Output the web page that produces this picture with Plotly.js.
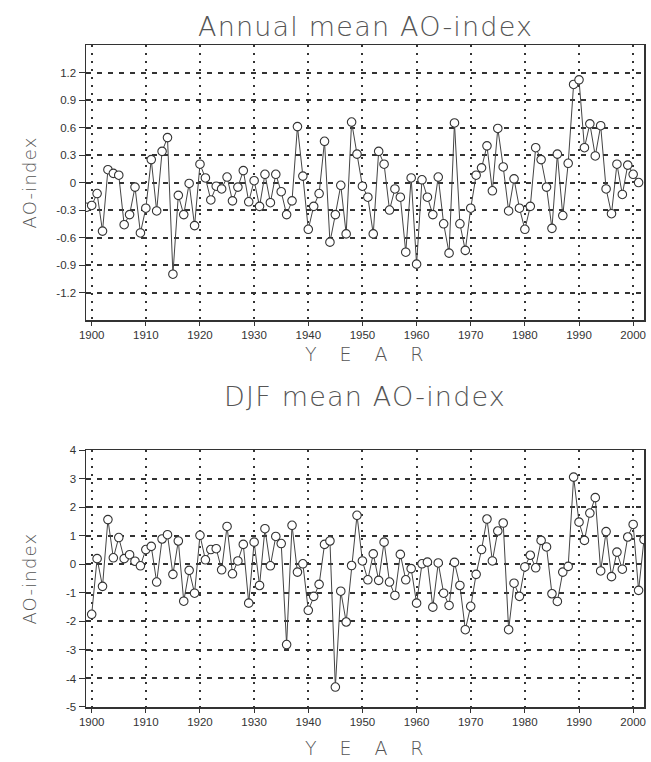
<!DOCTYPE html>
<html>
<head>
<meta charset="utf-8">
<script src="https://cdn.plot.ly/plotly-3.0.1.min.js"></script>
<style>
html,body{margin:0;padding:0;background:#fff;}
#chart{width:651px;height:762px;}
.annotation-text{letter-spacing:1.2px;}
</style>
</head>
<body>
<div id="chart"></div>
<script>
// Annual mean AO-index, 1899-2001
const annualYears = [1899,1900,1901,1902,1903,1904,1905,1906,1907,1908,1909,1910,1911,1912,1913,1914,1915,1916,1917,1918,1919,
  1920,1921,1922,1923,1924,1925,1926,1927,1928,1929,1930,1931,1932,1933,1934,1935,1936,1937,1938,1939,
  1940,1941,1942,1943,1944,1945,1946,1947,1948,1949,1950,1951,1952,1953,1954,1955,1956,1957,1958,1959,
  1960,1961,1962,1963,1964,1965,1966,1967,1968,1969,1970,1971,1972,1973,1974,1975,1976,1977,1978,1979,
  1980,1981,1982,1983,1984,1985,1986,1987,1988,1989,1990,1991,1992,1993,1994,1995,1996,1997,1998,1999,
  2000,2001];
const annualAO = [-0.27,-0.25,-0.12,-0.53,0.14,0.10,0.08,-0.46,-0.35,-0.05,-0.55,-0.28,0.25,-0.31,0.34,0.49,-1.00,-0.14,-0.35,-0.01,-0.47,
  0.20,0.05,-0.19,-0.04,-0.07,0.06,-0.20,-0.05,0.13,-0.21,0.02,-0.26,0.09,-0.22,0.09,-0.10,-0.35,-0.20,0.61,0.07,
  -0.51,-0.26,-0.12,0.45,-0.65,-0.35,-0.03,-0.56,0.66,0.31,-0.04,-0.16,-0.56,0.34,0.20,-0.30,-0.07,-0.16,-0.76,0.05,
  -0.89,0.03,-0.16,-0.35,0.06,-0.45,-0.77,0.65,-0.45,-0.74,-0.28,0.08,0.16,0.40,-0.09,0.59,0.17,-0.31,0.04,-0.28,
  -0.51,-0.26,0.38,0.25,-0.05,-0.50,0.31,-0.36,0.21,1.07,1.12,0.38,0.64,0.29,0.62,-0.07,-0.34,0.20,-0.13,0.19,
  0.09,0.00];

// DJF mean AO-index, 1900-2002
const djfYears = [1900,1901,1902,1903,1904,1905,1906,1907,1908,1909,1910,1911,1912,1913,1914,1915,1916,1917,1918,1919,
  1920,1921,1922,1923,1924,1925,1926,1927,1928,1929,1930,1931,1932,1933,1934,1935,1936,1937,1938,1939,
  1940,1941,1942,1943,1944,1945,1946,1947,1948,1949,1950,1951,1952,1953,1954,1955,1956,1957,1958,1959,
  1960,1961,1962,1963,1964,1965,1966,1967,1968,1969,1970,1971,1972,1973,1974,1975,1976,1977,1978,1979,
  1980,1981,1982,1983,1984,1985,1986,1987,1988,1989,1990,1991,1992,1993,1994,1995,1996,1997,1998,1999,
  2000,2001,2002];
const djfAO = [-1.75,0.20,-0.77,1.57,0.23,0.94,0.20,0.34,0.11,-0.05,0.52,0.63,-0.62,0.89,1.04,-0.35,0.82,-1.29,-0.21,-1.01,
  1.02,0.16,0.52,0.55,-0.19,1.33,-0.33,0.12,0.70,-1.36,0.78,-0.74,1.25,-0.05,0.98,0.73,-2.81,1.37,-0.27,0.02,
  -1.61,-1.12,-0.70,0.70,0.82,-4.30,-0.94,-2.02,-0.04,1.72,0.12,-0.54,0.37,-0.56,0.78,-0.62,-1.09,0.35,-0.54,-0.15,
  -1.36,0.02,0.08,-1.50,0.05,-1.01,-1.44,0.07,-0.74,-2.29,-1.47,-0.35,0.52,1.59,0.12,1.17,1.45,-2.29,-0.66,-1.12,
  -0.09,0.32,-0.12,0.84,0.61,-1.03,-1.30,-0.27,-0.07,3.06,1.48,0.84,1.80,2.34,-0.23,1.15,-0.43,0.43,-0.17,0.96,
  1.40,-0.91,0.87];

// Tick labels
const xTickVals = [1900,1910,1920,1930,1940,1950,1960,1970,1980,1990,2000];
const xTickText = ["1900","1910","1920","1930","1940","1950","1960","1970","1980","1990","2000"];
const annualTickVals = [1.2,0.9,0.6,0.3,0,-0.3,-0.6,-0.9,-1.2];
const annualTickText = ["1.2","0.9","0.6","0.3","0","-0.3","-0.6","-0.9","-1.2"];
const djfTickVals = [4,3,2,1,0,-1,-2,-3,-4,-5];
const djfTickText = ["4","3","2","1","0","-1","-2","-3","-4","-5"];

const titles = ["Annual mean AO-index", "DJF mean AO-index"];
const xTitle = "Y\u00a0\u00a0\u00a0E\u00a0\u00a0\u00a0A\u00a0\u00a0\u00a0R";
const yTitle = "AO-index";

const markerStyle = {symbol:'circle', size:8.5, color:'#ffffff', line:{color:'#333333', width:1.1}};
const lineStyle = {color:'#444444', width:1};

const traces = [
  {x: annualYears, y: annualAO, type:'scatter', mode:'lines+markers', line: lineStyle, marker: markerStyle, xaxis:'x', yaxis:'y', hoverinfo:'x+y'},
  {x: djfYears, y: djfAO, type:'scatter', mode:'lines+markers', line: lineStyle, marker: markerStyle, xaxis:'x2', yaxis:'y2', hoverinfo:'x+y'}
];

const tickFont = {family:'Liberation Sans, Arial, sans-serif', size:11.5, color:'#333'};
const xBase = {
  range:[1898.95, 2002], tickmode:'array', tickvals:xTickVals, ticktext:xTickText,
  showgrid:true, gridcolor:'#333', griddash:'2px,6px', gridwidth:2,
  showline:true, mirror:true, linecolor:'#333', linewidth:1.5,
  ticks:'outside', ticklen:4, tickcolor:'#333', tickfont:tickFont, zeroline:false
};
const yBase = {
  showgrid:true, gridcolor:'#333', griddash:'5px,6px', gridwidth:2,
  showline:true, mirror:true, linecolor:'#333', linewidth:1.5,
  ticks:'outside', ticklen:6, tickcolor:'#333', tickfont:tickFont, zeroline:false, tickmode:'array'
};

const titleFont = {family:'DejaVu Sans, sans-serif', size:27, color:'#555', weight:300};
const xTitleFont = {family:'DejaVu Sans, sans-serif', size:19, color:'#555', weight:300};
const yTitleFont = {family:'DejaVu Sans, sans-serif', size:18, color:'#555', weight:300};

const layout = {
  width:651, height:762,
  margin:{l:86, r:7, t:45, b:55},
  paper_bgcolor:'#fff', plot_bgcolor:'#fff',
  showlegend:false,
  xaxis: Object.assign({}, xBase, {anchor:'y', domain:[0,1]}),
  yaxis: Object.assign({}, yBase, {anchor:'x', domain:[0.5845,1], range:[-1.5,1.5], tickvals:annualTickVals, ticktext:annualTickText}),
  xaxis2: Object.assign({}, xBase, {anchor:'y2', domain:[0,1]}),
  yaxis2: Object.assign({}, yBase, {anchor:'x2', domain:[0,0.3878], range:[-5,4], tickvals:djfTickVals, ticktext:djfTickText}),
  annotations: [
    {text:titles[0], xref:'paper', yref:'paper', x:0.5, y:1.0272, xanchor:'center', yanchor:'middle', showarrow:false, font:titleFont},
    {text:titles[1], xref:'paper', yref:'paper', x:0.5, y:0.4683, xanchor:'center', yanchor:'middle', showarrow:false, font:titleFont},
    {text:xTitle, xref:'paper', yref:'paper', x:0.5, y:0.5332, xanchor:'center', yanchor:'middle', showarrow:false, font:xTitleFont},
    {text:xTitle, xref:'paper', yref:'paper', x:0.5, y:-0.0619, xanchor:'center', yanchor:'middle', showarrow:false, font:xTitleFont},
    {text:yTitle, xref:'paper', yref:'paper', x:-0.1004, y:0.7923, xanchor:'center', yanchor:'middle', textangle:-90, showarrow:false, font:yTitleFont},
    {text:yTitle, xref:'paper', yref:'paper', x:-0.1004, y:0.1939, xanchor:'center', yanchor:'middle', textangle:-90, showarrow:false, font:yTitleFont}
  ]
};

Plotly.newPlot('chart', traces, layout, {staticPlot:true, displayModeBar:false});
</script>
</body>
</html>
